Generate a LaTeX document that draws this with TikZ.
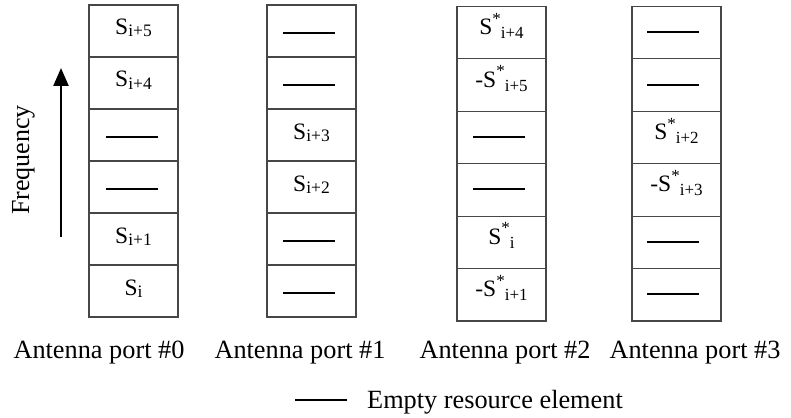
\documentclass[tikz,border=0pt]{standalone}
\usepackage{fontspec}
\setmainfont{Liberation Serif}
\usetikzlibrary{arrows.meta}
\newcommand{\bigS}{{\fontsize{23.5}{23.5}\selectfont S}}
\newcommand{\Sn}[1]{\bigS\raisebox{-2pt}{\fontsize{17.5}{17.5}\selectfont #1}}
\newcommand{\Sc}[2]{{\fontsize{23.5}{23.5}\selectfont #1}\bigS\raisebox{10.5pt}{\fontsize{17}{17}\selectfont *}\raisebox{-4pt}{\fontsize{17}{17}\selectfont #2}}
\begin{document}
\begin{tikzpicture}[x=1pt,y=-1pt,
  cell/.style={draw=black!72,line width=1.2pt,minimum width=89pt,minimum height=52pt,inner sep=0pt},
  cellb/.style={cell,minimum height=52.4pt},
  txt/.style={anchor=base,inner sep=0pt},
  dashl/.style={line width=2pt,black},
  lab/.style={anchor=base,inner sep=0pt,font=\fontsize{26.3}{26.3}\selectfont},
  arr/.style={line width=2.4pt,-{Triangle[length=18pt,width=15pt]}}]
\useasboundingbox (0,0) rectangle (791,417);
% column 0
\node[cell] (a0) at (133.5,31) {};
\node[cell] (a1) at (133.5,83) {};
\node[cell] (a2) at (133.5,135) {};
\node[cell] (a3) at (133.5,187) {};
\node[cell] (a4) at (133.5,239) {};
\node[cell] (a5) at (133.5,291) {};
% column 1
\node[cell] (b0) at (311.5,31) {};
\node[cell] (b1) at (311.5,83) {};
\node[cell] (b2) at (311.5,135) {};
\node[cell] (b3) at (311.5,187) {};
\node[cell] (b4) at (311.5,239) {};
\node[cell] (b5) at (311.5,291) {};
% column 2
\node[cellb] (c0) at (501.5,32.7) {};
\node[cellb] (c1) at (501.5,85.1) {};
\node[cellb] (c2) at (501.5,137.5) {};
\node[cellb] (c3) at (501.5,189.9) {};
\node[cellb] (c4) at (501.5,242.3) {};
\node[cellb] (c5) at (501.5,294.7) {};
% column 3
\node[cellb] (d0) at (676.5,32.7) {};
\node[cellb] (d1) at (676.5,85.1) {};
\node[cellb] (d2) at (676.5,137.5) {};
\node[cellb] (d3) at (676.5,189.9) {};
\node[cellb] (d4) at (676.5,242.3) {};
\node[cellb] (d5) at (676.5,294.7) {};
% contents column 0
\node[txt] (ta0) at ([yshift=-4pt]a0.center) {\Sn{i+5}};
\node[txt] (ta1) at ([yshift=-4pt]a1.center) {\Sn{i+4}};
\node[txt] (ta4) at ([yshift=-4pt]a4.center) {\Sn{i+1}};
\node[txt] (ta5) at ([yshift=-4pt]a5.center) {\Sn{i}};
\draw[dashl] ([xshift=-27.5pt,yshift=-2pt]a2.center) -- ++(52,0);
\draw[dashl] ([xshift=-27.5pt,yshift=-2pt]a3.center) -- ++(52,0);
% column 1
\draw[dashl] ([xshift=-29pt,yshift=-2pt]b0.center) -- ++(52,0);
\draw[dashl] ([xshift=-29pt,yshift=-2pt]b1.center) -- ++(52,0);
\node[txt] (tb2) at ([yshift=-4pt]b2.center) {\Sn{i+3}};
\node[txt] (tb3) at ([yshift=-4pt]b3.center) {\Sn{i+2}};
\draw[dashl] ([xshift=-29pt,yshift=-2pt]b4.center) -- ++(52,0);
\draw[dashl] ([xshift=-29pt,yshift=-2pt]b5.center) -- ++(52,0);
% column 2
\node[txt] (tc0) at ([yshift=-2pt]c0.center) {\Sc{}{i+4}};
\node[txt] (tc1) at ([yshift=-2pt]c1.center) {\Sc{-}{i+5}};
\draw[dashl] ([xshift=-28.5pt,yshift=0.5pt]c2.center) -- ++(52,0);
\draw[dashl] ([xshift=-28.5pt,yshift=0.5pt]c3.center) -- ++(52,0);
\node[txt] (tc4) at ([yshift=-2pt]c4.center) {\Sc{}{i}};
\node[txt] (tc5) at ([yshift=-2pt]c5.center) {\Sc{-}{i+1}};
% column 3
\draw[dashl] ([xshift=-29.5pt,yshift=0.5pt]d0.center) -- ++(52,0);
\draw[dashl] ([xshift=-29.5pt,yshift=0.5pt]d1.center) -- ++(52,0);
\node[txt] (td2) at ([yshift=-2pt]d2.center) {\Sc{}{i+2}};
\node[txt] (td3) at ([yshift=-2pt]d3.center) {\Sc{-}{i+3}};
\draw[dashl] ([xshift=-29.5pt,yshift=0.5pt]d4.center) -- ++(52,0);
\draw[dashl] ([xshift=-29.5pt,yshift=0.5pt]d5.center) -- ++(52,0);
% frequency arrow
\coordinate (fb) at (61,237);
\coordinate (ft) at (61,68);
\draw[arr] (fb) -- (ft);
\node[rotate=90,anchor=base,inner sep=0pt,font=\fontsize{26}{26}\selectfont] (freq) at (29,160) {Frequency};
% labels
\node[lab] (l0) at (99,358) {Antenna port \#0};
\node[lab] (l1) at (300,358) {Antenna port \#1};
\node[lab] (l2) at (505,358) {Antenna port \#2};
\node[lab] (l3) at (695,358) {Antenna port \#3};
% legend
\coordinate (lga) at (295,400);
\coordinate (lgb) at (347,400);
\draw[dashl] (lga) -- (lgb);
\node[lab,anchor=base west] (lgt) at (367,408) {Empty resource element};
\end{tikzpicture}
\end{document}
